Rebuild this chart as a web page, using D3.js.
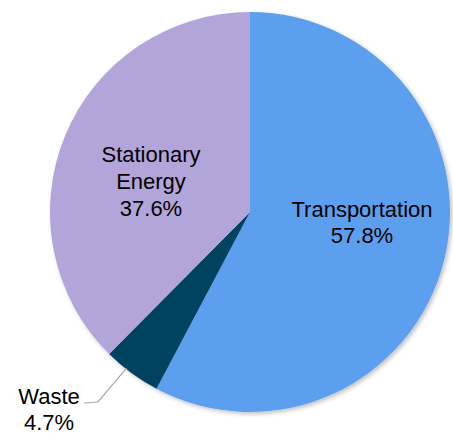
<!DOCTYPE html>
<html><head><meta charset="utf-8">
<script src="https://cdn.jsdelivr.net/npm/d3@7"></script>
<style>body{margin:0;background:#fff}svg{display:block}</style>
</head><body>
<script>
const categories = ["Transportation", "Waste", "Stationary Energy"];
const values = [57.8, 4.7, 37.6];
const labels = ["57.8%", "4.7%", "37.6%"];
const colors = ["#5B9FEE", "#004261", "#B3A5D9"];

const W = 453, H = 434, cx = 250, cy = 212, R = 200;
const svg = d3.select("body").append("svg").attr("width", W).attr("height", H);
const defs = svg.append("defs");
const f = defs.append("filter").attr("id", "sh").attr("x", "-10%").attr("y", "-10%").attr("width", "120%").attr("height", "120%");
f.append("feDropShadow").attr("dx", 2).attr("dy", 2).attr("stdDeviation", 2).attr("flood-color", "#000").attr("flood-opacity", 0.25);

const data = categories.map((c, i) => ({c, v: values[i], l: labels[i], col: colors[i]}));
const pie = d3.pie().sort(null).value(d => d.v);
const arcs = pie(data);
const arc = d3.arc().innerRadius(0).outerRadius(R);
const g = svg.append("g").attr("transform", `translate(${cx},${cy})`);
g.append("g").attr("filter", "url(#sh)").selectAll("path").data(arcs).join("path")
  .attr("d", arc).attr("fill", d => d.data.col);

const font = "Liberation Sans, Arial, sans-serif";
function multi(x, y, lines, dy) {
  const t = svg.append("text").attr("x", x).attr("y", y).attr("text-anchor", "middle")
    .attr("font-family", font).attr("font-size", 22).attr("fill", "#000");
  lines.forEach((s, i) => t.append("tspan").attr("x", x).attr("dy", i ? dy : 0).text(s));
}
multi(362, 217, [categories[0], labels[0]], 26);
multi(151, 162, ["Stationary", "Energy", labels[2]], 27);
// Waste outside with leader
const w = arcs[1];
const a0 = w.startAngle + (w.endAngle - w.startAngle) * 0.62;
const p0 = [cx + Math.sin(a0) * (R - 1), cy - Math.cos(a0) * (R - 1)];
svg.append("polyline").attr("points", `${p0[0]},${p0[1]} 98,402 84,403`)
  .attr("fill", "none").attr("stroke", "#a6a6a6").attr("stroke-width", 1.2);
multi(49, 404, [categories[1], labels[1]], 25.5);
</script>
</body></html>
